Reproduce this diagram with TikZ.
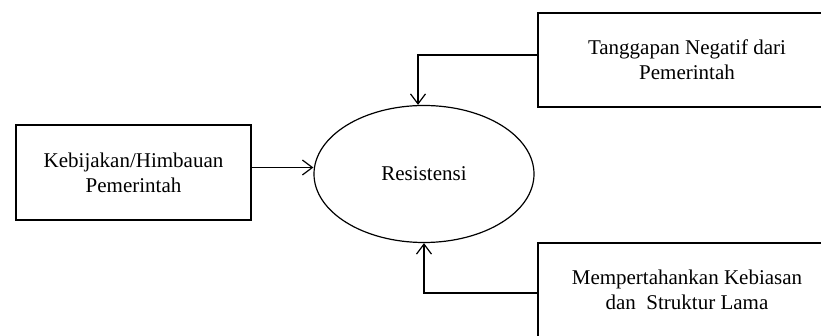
\documentclass[tikz,border=0pt]{standalone}
\usepackage{fontspec}
\setmainfont{Liberation Serif}
\usetikzlibrary{arrows.meta, shapes}
\tikzset{
  BOX/.style={% Style for the framed boxes
      rectangle, line width=0.6pt,
      align=center,
      inner sep=0pt,
      font=\fontsize{10.5}{12.5}\selectfont,
      draw=black,
  },
  CORE/.style={% Style for the central oval
      ellipse, line width=0.6pt,
      inner sep=0pt,
      minimum width=110pt,
      minimum height=68.5pt,
      font=\fontsize{10.5}{12.5}\selectfont,
      draw=black,
  },
  LINK/.style={% Style for the connectors
      line width=0.6pt,
      -{Straight Barb[length=5pt,width=7.5pt]},
  }
}

\begin{document}
\begin{tikzpicture}[x=0.5pt,y=-0.5pt]
    \useasboundingbox (0,0) rectangle (821,336);
    \clip (0,0) rectangle (821,336);
    \node[CORE] (Resistensi) at (424,174) {Resistensi};
    \node[BOX, minimum width=117.5pt, minimum height=47.5pt] (Kebijakan) at (133.5,172.5)
      {Kebijakan/Himbauan\\Pemerintah};
    \node[BOX, minimum width=149pt, minimum height=47pt] (Tanggapan) at (687,60)
      {Tanggapan Negatif dari\\Pemerintah};
    \node[BOX, minimum width=149pt, minimum height=47pt] (Kebiasan) at (687,290)
      {Mempertahankan Kebiasan\\dan\ \ Struktur Lama};
    % connectors into the oval
    \draw[LINK] ([yshift=2.5pt]Kebijakan.east) -- ([yshift=2.5pt]Kebijakan.east -| Resistensi.west);
    \draw[LINK] ([yshift=2.5pt]Tanggapan.west) -| ([xshift=-3pt]Resistensi.north);
    \draw[LINK] ([yshift=-1.5pt]Kebiasan.west) -| (Resistensi.south);
\end{tikzpicture}
\end{document}
